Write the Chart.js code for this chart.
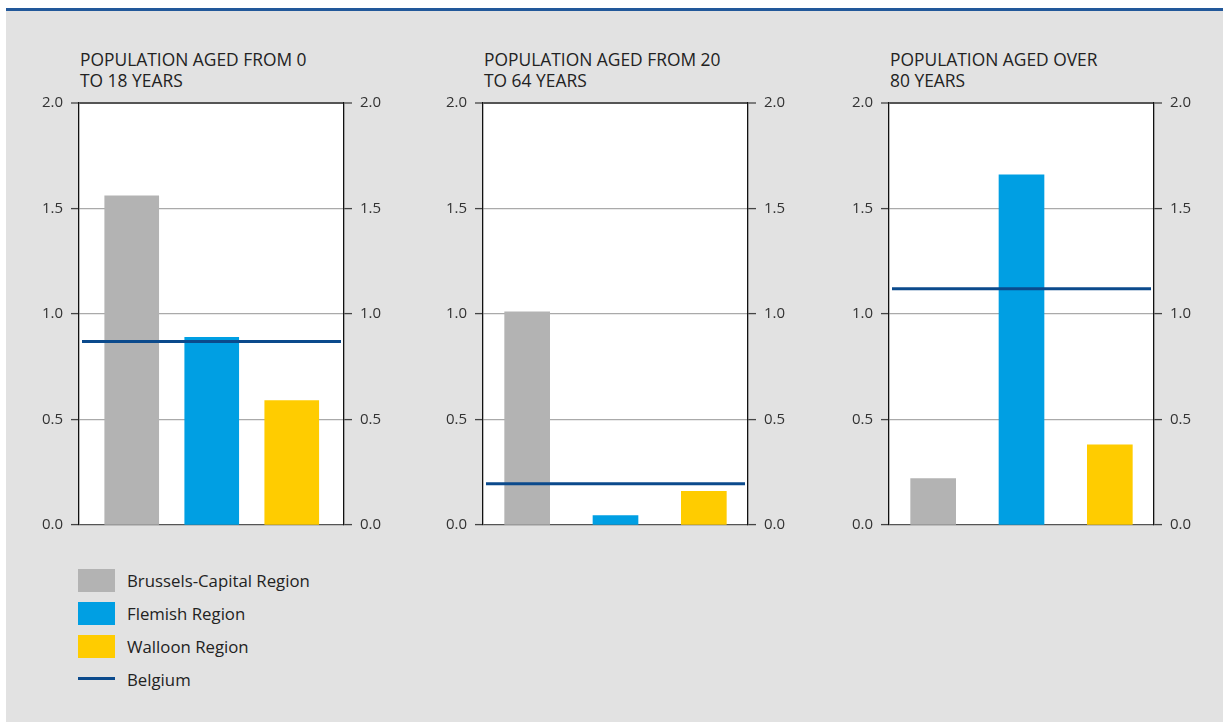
<!DOCTYPE html>
<html>
<head>
<meta charset="utf-8">
<script src="https://cdn.jsdelivr.net/npm/chart.js@4.4.1/dist/chart.umd.min.js"></script>
<style>
  body { margin: 0; width: 1223px; height: 722px; background: #fff; overflow: hidden;
         font-family: "Open Sans", "Noto Sans", sans-serif; color: #222; }
  #frame { position: absolute; left: 6px; top: 8px; right: 0; bottom: 0;
           background: #e2e2e2; border-top: 3px solid #22589a; }
  .panel-title { position: absolute; top: 49px; font-size: 17.4px; line-height: 21px; color: #222; }
  canvas { position: absolute; }
  #legend { position: absolute; left: 78px; top: 569px; font-size: 16.8px; color: #222; }
  .item { position: relative; height: 33px; }
  .swatch { position: absolute; left: 0; top: 0; width: 37px; height: 23px; }
  .dash { position: absolute; left: 0; top: 9px; width: 37px; height: 3px; }
  .item span { position: absolute; left: 49px; top: 0; line-height: 23px; white-space: nowrap; }
</style>
</head>
<body>
<div id="frame"></div>
<div id="charts"></div>
<div id="legend"></div>
<script>
// values per age group: 0-18, 20-64, over 80
const panelTitles = [
  ['POPULATION AGED FROM 0', 'TO 18 YEARS'],
  ['POPULATION AGED FROM 20', 'TO 64 YEARS'],
  ['POPULATION AGED OVER', '80 YEARS']
];
const regions = ['Brussels-Capital Region', 'Flemish Region', 'Walloon Region'];
const brussels = [1.56, 1.01, 0.22];
const flemish = [0.89, 0.045, 1.66];
const walloon = [0.59, 0.16, 0.38];
const belgium = [0.87, 0.195, 1.12];
const yTicks = [0, 0.5, 1.0, 1.5, 2.0];

const regionColors = ['#b3b3b3', '#009fe3', '#ffcc00'];
const belgiumColor = '#0b4a8c';

// layout of the three plots
const plotLeft = [79, 483, 889];
const xRange = [[-0.659, 2.653], [-0.5, 2.5], [-0.5, 2.5]];
const barWidth = [54, 45, 45];
const AXIS_W = 50;

const plotBackground = {
  id: 'plotBackground',
  beforeDraw(chart) {
    const { ctx, chartArea: a } = chart;
    ctx.save();
    ctx.fillStyle = '#fff';
    ctx.fillRect(a.left, a.top, a.right - a.left, a.bottom - a.top);
    ctx.restore();
  }
};

const nationalLine = {
  id: 'nationalLine',
  afterDatasetsDraw(chart, args, opts) {
    const { ctx, chartArea: a } = chart;
    const y = chart.scales.y.getPixelForValue(opts.value);
    ctx.save();
    ctx.strokeStyle = belgiumColor;
    ctx.lineWidth = 3;
    ctx.beginPath();
    ctx.moveTo(a.left + 3, y);
    ctx.lineTo(a.right - 3, y);
    ctx.stroke();
    ctx.restore();
  }
};

const gridColor = c => {
  if (c.tick.value === 2) return '#555';
  if (c.tick.value === 0) return '#555';
  return '#aaa';
};

const yAxis = (position) => ({
  position: position,
  min: 0,
  max: 2,
  afterBuildTicks: s => { s.ticks = yTicks.map(v => ({ value: v })); },
  afterFit: s => { s.width = AXIS_W; },
  border: { display: true, color: '#111', width: 1.3 },
  grid: {
    drawOnChartArea: position === 'left',
    color: gridColor,
    lineWidth: c => (c.tick.value === 2 ? 2 : 1.2),
    tickLength: 8,
    tickColor: '#444',
    tickWidth: 1.3
  },
  ticks: {
    padding: 8,
    color: '#333',
    font: { family: '"Open Sans", "Noto Sans", sans-serif', size: 15 },
    callback: v => v.toFixed(1)
  }
});

const createPanel = (i) => {
  const host = document.getElementById('charts');

  const title = document.createElement('div');
  title.className = 'panel-title';
  title.style.left = (plotLeft[i] + 1) + 'px';
  title.innerHTML = panelTitles[i].join('<br>');
  host.appendChild(title);

  const canvas = document.createElement('canvas');
  canvas.style.left = (plotLeft[i] - AXIS_W) + 'px';
  canvas.style.top = '86px';
  canvas.style.width = (265 + 2 * AXIS_W) + 'px';
  canvas.style.height = '456px';
  host.appendChild(canvas);

  const values = [brussels[i], flemish[i], walloon[i]];

  return new Chart(canvas, {
    type: 'bar',
    data: {
      datasets: [{
        data: values.map((v, k) => ({ x: k, y: v })),
        backgroundColor: regionColors,
        barThickness: barWidth[i]
      }]
    },
    options: {
      responsive: false,
      animation: false,
      layout: { padding: 0 },
      plugins: {
        legend: { display: false },
        tooltip: { enabled: false },
        nationalLine: { value: belgium[i] }
      },
      scales: {
        x: { type: 'linear', display: false, offset: false, min: xRange[i][0], max: xRange[i][1] },
        y: yAxis('left'),
        y2: yAxis('right')
      }
    },
    plugins: [plotBackground, nationalLine]
  });
};

const buildLegend = () => {
  const box = document.getElementById('legend');
  regions.forEach((name, k) => {
    const row = document.createElement('div');
    row.className = 'item';
    row.innerHTML = `<div class="swatch" style="background:${regionColors[k]}"></div><span>${name}</span>`;
    box.appendChild(row);
  });
  const row = document.createElement('div');
  row.className = 'item';
  row.innerHTML = `<div class="dash" style="background:${belgiumColor}"></div><span>Belgium</span>`;
  box.appendChild(row);
};

panelTitles.forEach((t, i) => createPanel(i));
buildLegend();
</script>
</body>
</html>
